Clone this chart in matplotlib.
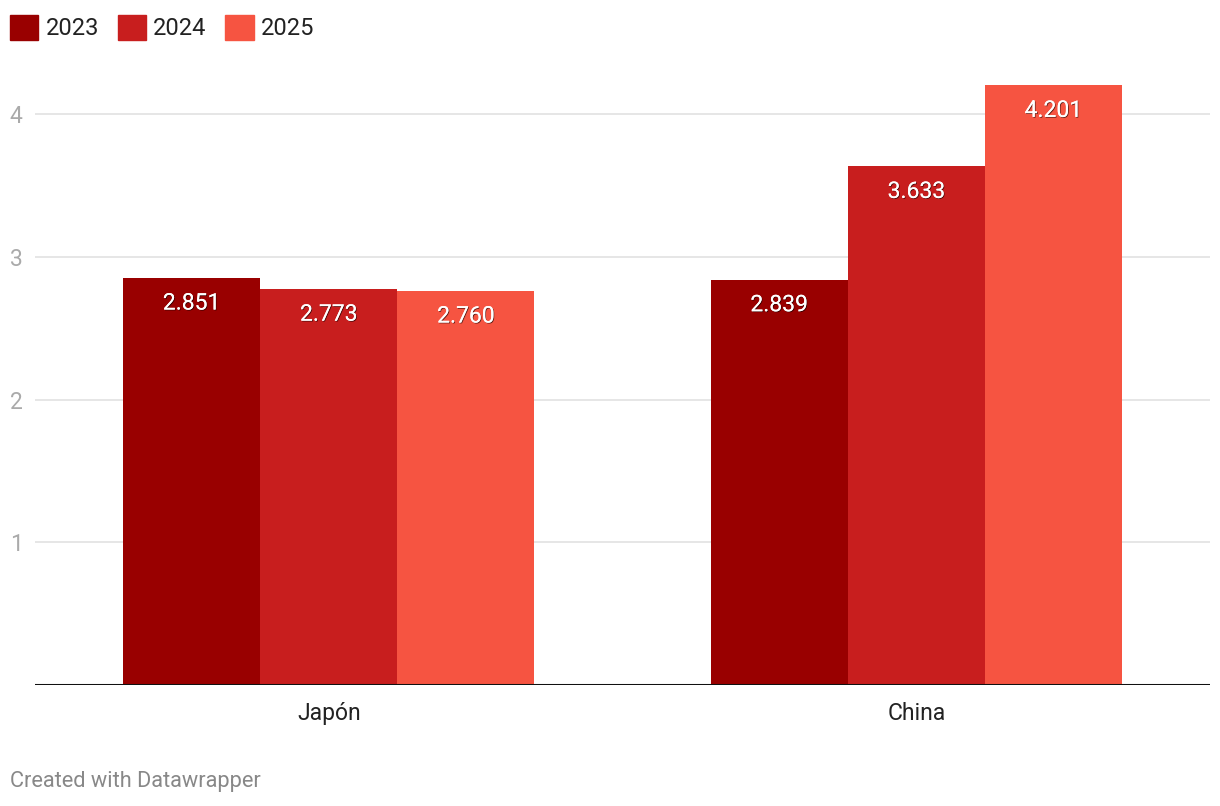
import numpy as np
import matplotlib.pyplot as plt
import matplotlib.patheffects as pe
from matplotlib.patches import Patch

plt.rcParams['font.family'] = ['Roboto', 'DejaVu Sans']

# data
countries = ['Japón', 'China']
years = ['2023', '2024', '2025']
values_2023 = [2.851, 2.839]
values_2024 = [2.773, 3.633]
values_2025 = [2.760, 4.201]
colors = ['#990000', '#c81e1e', '#f65441']

series = [values_2023, values_2024, values_2025]

fig = plt.figure(figsize=(12.2, 8.06), dpi=100)
ax = fig.add_axes([0.0287, 0.1502, 0.9631, 0.7614])

x = np.arange(len(countries))
width = 0.2334

shadow = [pe.withSimplePatchShadow(offset=(0.6, -0.6), shadow_rgbFace='black', alpha=0.6), pe.Normal()]

for i, (vals, col) in enumerate(zip(series, colors)):
    bars = ax.bar(x + (i - 1) * width, vals, width, color=col, zorder=3)
    for b, v in zip(bars, vals):
        ax.annotate(f'{v:.3f}', (b.get_x() + b.get_width() / 2, v),
                    xytext=(0, -18), textcoords='offset points',
                    ha='center', va='center', color='white', fontsize=16.5,
                    path_effects=shadow, zorder=4)

ax.set_xlim(-0.5, 1.5)
ax.set_ylim(0, 4.3)
ax.set_yticks([1, 2, 3, 4])
ax.set_yticklabels(['1', '2', '3', '4'])
ax.grid(axis='y', color='#e2e2e2', linewidth=1.2, zorder=0)
ax.axhline(0, color='#111111', linewidth=2.2, zorder=5)

ax.set_xticks(x)
ax.set_xticklabels(countries)
ax.tick_params(axis='x', length=0, pad=12, labelsize=16.5, labelcolor='#222222')
ax.tick_params(axis='y', length=0, pad=9, labelsize=16.5, labelcolor='#aaaaaa')
for s in ax.spines.values():
    s.set_visible(False)

handles = [Patch(color=c, label=y) for c, y in zip(colors, years)]
fig.legend(handles=handles, loc='upper left', bbox_to_anchor=(0.0082, 0.981), ncol=3,
           frameon=False, fontsize=17, handlelength=1.2, handleheight=1.2,
           handletextpad=0.3, columnspacing=0.8, borderaxespad=0, borderpad=0,
           labelcolor='#222222')

fig.text(0.0082, 1 - 782 / 806, 'Created with Datawrapper', color='#888888',
         fontsize=15.7, va='center', ha='left')

fig.savefig('out.png', dpi=100, facecolor='white')
